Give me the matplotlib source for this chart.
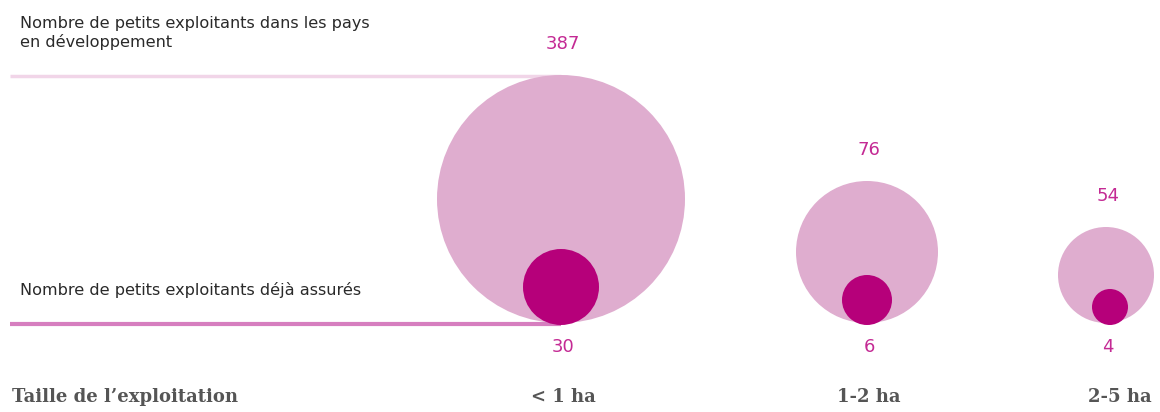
import matplotlib.pyplot as plt
from matplotlib.patches import Circle

# data
categories = ['< 1 ha', '1-2 ha', '2-5 ha']
total_farmers = [387, 76, 54]      # petits exploitants dans les pays en développement
insured_farmers = [30, 6, 4]       # petits exploitants déjà assurés

# layout (pixel units)
x_outer = [561, 867, 1106]
x_inner = [561, 867, 1110]
r_outer = [124, 71, 48]
r_inner = [38, 25, 18]
base_y = 323

light = '#dfadcf'
dark = '#b6007a'
num_col = '#c42a94'

fig = plt.figure(figsize=(11.6, 4.12), dpi=100)
ax = fig.add_axes([0, 0, 1, 1])
ax.set_xlim(0, 1160)
ax.set_ylim(412, 0)
ax.set_aspect('equal')
ax.axis('off')

# guide lines
ax.plot([10, x_outer[0]], [base_y - 2 * r_outer[0] + 1] * 2, color='#f1d5e8', lw=2.5,
        solid_capstyle='butt', zorder=1)
ax.plot([10, x_inner[0]], [base_y + 1] * 2, color='#d67ebf', lw=3,
        solid_capstyle='butt', zorder=1)

for i, cat in enumerate(categories):
    cy = base_y - r_outer[i]
    ax.add_patch(Circle((x_outer[i], cy), r_outer[i], color=light, lw=0, zorder=2))
    ci = base_y + 2 - r_inner[i]
    ax.add_patch(Circle((x_inner[i], ci), r_inner[i], color=dark, lw=0, zorder=3))
    ax.text(x_outer[i] + 2, cy - r_outer[i] - 31, str(total_farmers[i]), color=num_col,
            fontsize=13, ha='center', va='center', family='DejaVu Sans')
    ax.text(x_outer[i] + 2, 347, str(insured_farmers[i]), color=num_col,
            fontsize=13, ha='center', va='center', family='DejaVu Sans')
    ax.text(x_outer[i] + 2 + (12 if i == 2 else 0), 397, cat, color='#555555',
            fontsize=13, ha='center', va='center', family='DejaVu Serif',
            fontweight='bold')

ax.text(20, 33, 'Nombre de petits exploitants dans les pays\nen développement',
        color='#2a2a2a', fontsize=11.6, ha='left', va='center', family='DejaVu Sans',
        linespacing=1.2)
ax.text(20, 290, 'Nombre de petits exploitants déjà assurés', color='#2a2a2a',
        fontsize=11.6, ha='left', va='center', family='DejaVu Sans')
ax.text(12, 397, 'Taille de l\u2019exploitation', color='#555555', fontsize=13,
        ha='left', va='center', family='DejaVu Serif', fontweight='bold')

fig.savefig('out.png', dpi=100, facecolor='white')
